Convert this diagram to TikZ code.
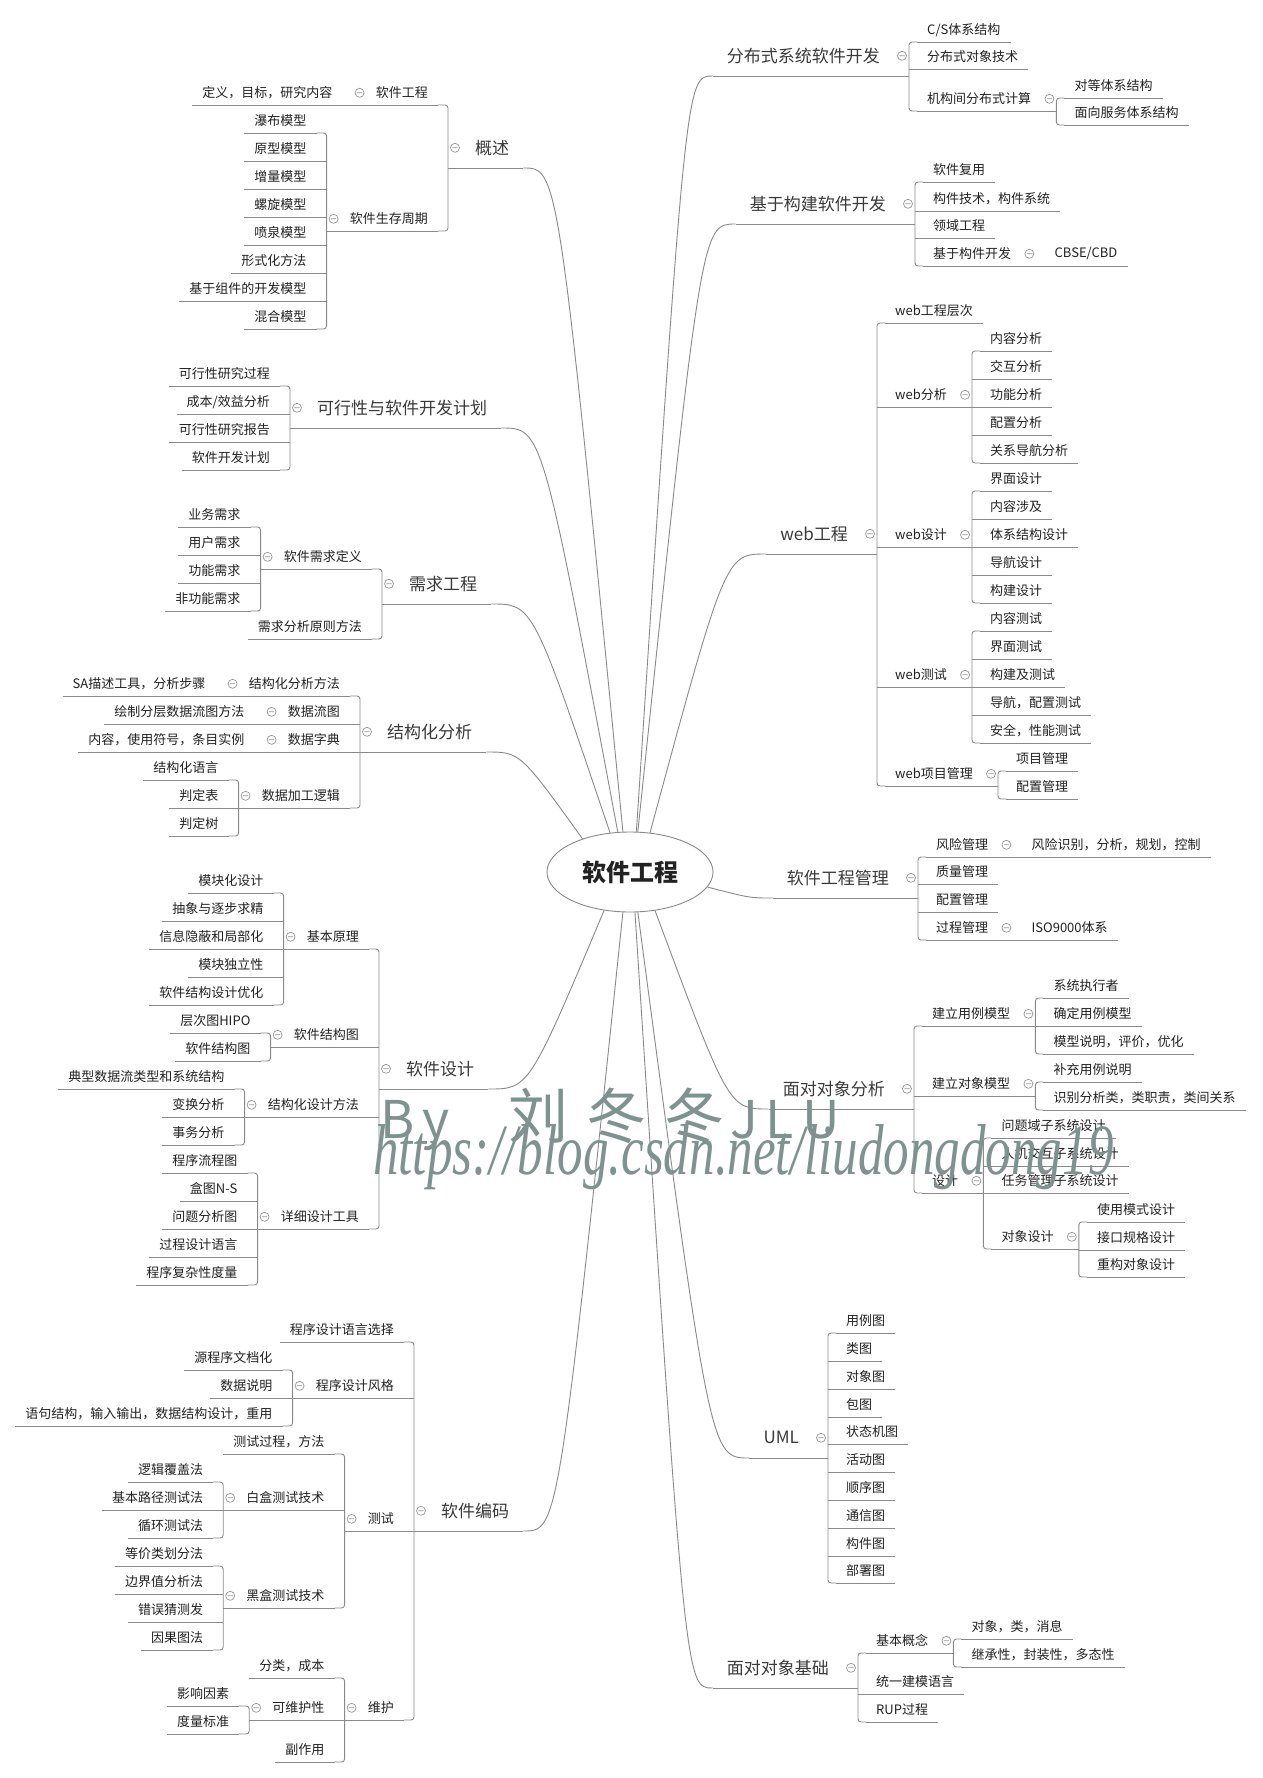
\documentclass[tikz,border=0pt]{standalone}
\usepackage{fontspec}
\setmainfont{Noto Sans CJK SC}
\newfontfamily\wmserif{Liberation Serif}
\usepackage{graphicx}
\usetikzlibrary{calc,positioning,shapes.geometric}

\definecolor{ink}{RGB}{34,34,34}
\definecolor{topicink}{RGB}{58,58,58}
\definecolor{linegray}{RGB}{138,138,138}
\definecolor{foldgray}{RGB}{150,150,150}
\definecolor{wmgreen}{RGB}{126,147,144}

\tikzset{
  link/.style={draw=linegray, line width=0.9pt},
  fold/.style={draw=foldgray, line width=0.7pt},
  leaf/.style={inner xsep=10pt, inner ysep=0pt, minimum height=24pt,
    text=ink, font=\fontsize{13}{14}\selectfont},
  topic/.style={inner xsep=14pt, inner ysep=0pt, minimum height=40pt,
    text=topicink, font=\fontsize{17}{18}\selectfont},
  hub/.style={ellipse, draw=linegray, line width=0.9pt, inner sep=0pt,
    minimum width=166pt, minimum height=80pt, text=ink,
    font=\fontsize{24}{26}\selectfont\bfseries},
  wmark/.style={text=wmgreen, inner sep=0pt},
}

% topics sit on a bracket x and an underline y
\newcommand\ltopic[4]{%
  \node[topic,anchor=south west] (#1) at (#2+13,-#3) {#4};
  \draw[link] (#1.south west) -- (#1.south east);}
\newcommand\rtopic[4]{%
  \node[topic,anchor=south east] (#1) at (#2-15,-#3) {#4};
  \draw[link] (#1.south west) -- (#1.south east);}
% children hang off the bracket of their parent
\newcommand\lkid[4]{%
  \path let \p1=(#2.south west) in
    node[leaf,anchor=south east] (#1) at (\x1-23pt,-#3pt) {#4};
  \draw[link] (#1.south west) -- (#1.south east);}
\newcommand\rkid[4]{%
  \path let \p1=(#2.south east) in
    node[leaf,anchor=south west] (#1) at (\x1+23pt,-#3pt) {#4};
  \draw[link] (#1.south west) -- (#1.south east);}
% fold marks
\newcommand\lmark[1]{\draw[fold] ([xshift=-6pt]#1.west) circle[radius=4.5pt] +(-2.6pt,0) -- +(2.6pt,0);}
\newcommand\rmark[1]{\draw[fold] ([xshift=8pt]#1.east) circle[radius=4.5pt] +(-2.6pt,0) -- +(2.6pt,0);}
% brackets: parent, first kid, last kid, kids in between
\newcommand\lfork[4]{%
  \coordinate (#1-b) at ([xshift=-13pt]#1.south west);
  \draw[link,rounded corners=3pt] (#2.south east) -| (#1-b) |- (#3.south east);
  \draw[link] (#1-b) -- (#1.south west);
  \if\relax\detokenize{#4}\relax\else
    \foreach \k in {#4} {\draw[link] (\k.south east) -- (\k.south east -| #1-b);}%
  \fi
  \lmark{#1}}
\newcommand\rfork[4]{%
  \coordinate (#1-b) at ([xshift=15pt]#1.south east);
  \draw[link,rounded corners=3pt] (#2.south west) -| (#1-b) |- (#3.south west);
  \draw[link] (#1.south east) -- (#1-b);
  \if\relax\detokenize{#4}\relax\else
    \foreach \k in {#4} {\draw[link] (\k.south west) -- (\k.south west -| #1-b);}%
  \fi
  \rmark{#1}}
% one child on the same line
\newcommand\lone[2]{\draw[link] (#2.south east) -- (#1.south west); \lmark{#1}}
\newcommand\rone[2]{\draw[link] (#1.south east) -- (#2.south west); \rmark{#1}}
% curve from the hub to a topic
\newcommand\branch[2]{%
  \draw[link] let \p1=(#1), \p2=(#2) in
    (\p1) .. controls ({0.65*\x2+0.35*\x1},\y2) .. (\p2);}

\begin{document}
\begin{tikzpicture}[x=1pt,y=1pt]
\fill[white] (0,0) rectangle (1263,-1778);
\useasboundingbox (0,0) rectangle (1263,-1778);

\node[hub] (hub) at (630,-872) {软件工程};

% ---------------- left half ----------------
\ltopic{overview}{448}{168}{概述}
\lkid{se}{overview}{105}{软件工程}
\lkid{se-1}{se}{105}{定义，目标，研究内容}
\lone{se}{se-1}
\lkid{lifecycle}{overview}{231}{软件生存周期}
\lkid{lc-1}{lifecycle}{133}{瀑布模型}
\lkid{lc-2}{lifecycle}{161}{原型模型}
\lkid{lc-3}{lifecycle}{189}{增量模型}
\lkid{lc-4}{lifecycle}{217}{螺旋模型}
\lkid{lc-5}{lifecycle}{245}{喷泉模型}
\lkid{lc-6}{lifecycle}{273}{形式化方法}
\lkid{lc-7}{lifecycle}{301}{基于组件的开发模型}
\lkid{lc-8}{lifecycle}{329}{混合模型}
\lfork{lifecycle}{lc-1}{lc-8}{lc-2,lc-3,lc-4,lc-5,lc-6,lc-7}
\lfork{overview}{se}{lifecycle}{}

\ltopic{feasibility}{290}{428}{可行性与软件开发计划}
\lkid{fe-1}{feasibility}{386}{可行性研究过程}
\lkid{fe-2}{feasibility}{414}{成本/效益分析}
\lkid{fe-3}{feasibility}{442}{可行性研究报告}
\lkid{fe-4}{feasibility}{470}{软件开发计划}
\lfork{feasibility}{fe-1}{fe-4}{fe-2,fe-3}

\ltopic{requirements}{382}{604}{需求工程}
\lkid{req-def}{requirements}{569}{软件需求定义}
\lkid{rd-1}{req-def}{527}{业务需求}
\lkid{rd-2}{req-def}{555}{用户需求}
\lkid{rd-3}{req-def}{583}{功能需求}
\lkid{rd-4}{req-def}{611}{非功能需求}
\lfork{req-def}{rd-1}{rd-4}{rd-2,rd-3}
\lkid{req-method}{requirements}{639}{需求分析原则方法}
\lfork{requirements}{req-def}{req-method}{}

\ltopic{sa}{360}{752}{结构化分析}
\lkid{sa-method}{sa}{696}{结构化分析方法}
\lkid{sa-method-1}{sa-method}{696}{SA描述工具，分析步骤}
\lone{sa-method}{sa-method-1}
\lkid{dfd}{sa}{724}{数据流图}
\lkid{dfd-1}{dfd}{724}{绘制分层数据流图方法}
\lone{dfd}{dfd-1}
\lkid{dd}{sa}{752}{数据字典}
\lkid{dd-1}{dd}{752}{内容，使用符号，条目实例}
\lone{dd}{dd-1}
\lkid{logic}{sa}{808}{数据加工逻辑}
\lkid{lg-1}{logic}{780}{结构化语言}
\lkid{lg-2}{logic}{808}{判定表}
\lkid{lg-3}{logic}{836}{判定树}
\lfork{logic}{lg-1}{lg-3}{lg-2}
\lfork{sa}{sa-method}{logic}{dfd,dd}

\ltopic{design}{379}{1089}{软件设计}
\lkid{principle}{design}{949}{基本原理}
\lkid{pr-1}{principle}{893}{模块化设计}
\lkid{pr-2}{principle}{921}{抽象与逐步求精}
\lkid{pr-3}{principle}{949}{信息隐蔽和局部化}
\lkid{pr-4}{principle}{977}{模块独立性}
\lkid{pr-5}{principle}{1005}{软件结构设计优化}
\lfork{principle}{pr-1}{pr-5}{pr-2,pr-3,pr-4}
\lkid{sc}{design}{1047}{软件结构图}
\lkid{sc-1}{sc}{1033}{层次图HIPO}
\lkid{sc-2}{sc}{1061}{软件结构图}
\lfork{sc}{sc-1}{sc-2}{}
\lkid{sd}{design}{1117}{结构化设计方法}
\lkid{sd-1}{sd}{1089}{典型数据流类型和系统结构}
\lkid{sd-2}{sd}{1117}{变换分析}
\lkid{sd-3}{sd}{1145}{事务分析}
\lfork{sd}{sd-1}{sd-3}{sd-2}
\lkid{tools}{design}{1229}{详细设计工具}
\lkid{tl-1}{tools}{1173}{程序流程图}
\lkid{tl-2}{tools}{1201}{盒图N-S}
\lkid{tl-3}{tools}{1229}{问题分析图}
\lkid{tl-4}{tools}{1257}{过程设计语言}
\lkid{tl-5}{tools}{1285}{程序复杂性度量}
\lfork{tools}{tl-1}{tl-5}{tl-2,tl-3,tl-4}
\lfork{design}{principle}{tools}{sc,sd}

\ltopic{coding}{414}{1531}{软件编码}
\lkid{lang}{coding}{1342}{程序设计语言选择}
\lkid{style}{coding}{1398}{程序设计风格}
\lkid{st-1}{style}{1370}{源程序文档化}
\lkid{st-2}{style}{1398}{数据说明}
\lkid{st-3}{style}{1426}{语句结构，输入输出，数据结构设计，重用}
\lfork{style}{st-1}{st-3}{st-2}
\lkid{testing}{coding}{1531}{测试}
\lkid{ts-1}{testing}{1454}{测试过程，方法}
\lkid{whitebox}{testing}{1510}{白盒测试技术}
\lkid{wbox-1}{whitebox}{1482}{逻辑覆盖法}
\lkid{wbox-2}{whitebox}{1510}{基本路径测试法}
\lkid{wbox-3}{whitebox}{1538}{循环测试法}
\lfork{whitebox}{wbox-1}{wbox-3}{wbox-2}
\lkid{blackbox}{testing}{1608}{黑盒测试技术}
\lkid{bbox-1}{blackbox}{1566}{等价类划分法}
\lkid{bbox-2}{blackbox}{1594}{边界值分析法}
\lkid{bbox-3}{blackbox}{1622}{错误猜测发}
\lkid{bbox-4}{blackbox}{1650}{因果图法}
\lfork{blackbox}{bbox-1}{bbox-4}{bbox-2,bbox-3}
\lfork{testing}{ts-1}{blackbox}{whitebox}
\lkid{maintain}{coding}{1720}{维护}
\lkid{mt-1}{maintain}{1678}{分类，成本}
\lkid{maintainability}{maintain}{1720}{可维护性}
\lkid{mb-1}{maintainability}{1706}{影响因素}
\lkid{mb-2}{maintainability}{1734}{度量标准}
\lfork{maintainability}{mb-1}{mb-2}{}
\lkid{mt-3}{maintain}{1762}{副作用}
\lfork{maintain}{mt-1}{mt-3}{maintainability}
\lfork{coding}{lang}{maintain}{style,testing}

% ---------------- right half ----------------
\rtopic{distributed}{909}{76}{分布式系统软件开发}
\rkid{ds-1}{distributed}{42}{C/S体系结构}
\rkid{ds-2}{distributed}{69}{分布式对象技术}
\rkid{inter-org}{distributed}{111}{机构间分布式计算}
\rkid{io-1}{inter-org}{98}{对等体系结构}
\rkid{io-2}{inter-org}{125}{面向服务体系结构}
\rfork{inter-org}{io-1}{io-2}{}
\rfork{distributed}{ds-1}{inter-org}{ds-2}

\rtopic{component}{915}{224}{基于构建软件开发}
\rkid{cp-1}{component}{182}{软件复用}
\rkid{cp-2}{component}{211}{构件技术，构件系统}
\rkid{cp-3}{component}{238}{领域工程}
\rkid{cbd}{component}{266}{基于构件开发}
\rkid{cbd-1}{cbd}{266}{CBSE/CBD}
\rone{cbd}{cbd-1}
\rfork{component}{cp-1}{cbd}{cp-2,cp-3}

\rtopic{web}{877}{554}{web工程}
\rkid{web-levels}{web}{323}{web工程层次}
\rkid{web-analysis}{web}{407}{web分析}
\rkid{wa-1}{web-analysis}{351}{内容分析}
\rkid{wa-2}{web-analysis}{379}{交互分析}
\rkid{wa-3}{web-analysis}{407}{功能分析}
\rkid{wa-4}{web-analysis}{435}{配置分析}
\rkid{wa-5}{web-analysis}{463}{关系导航分析}
\rfork{web-analysis}{wa-1}{wa-5}{wa-2,wa-3,wa-4}
\rkid{web-design}{web}{547}{web设计}
\rkid{wd-1}{web-design}{491}{界面设计}
\rkid{wd-2}{web-design}{519}{内容涉及}
\rkid{wd-3}{web-design}{547}{体系结构设计}
\rkid{wd-4}{web-design}{575}{导航设计}
\rkid{wd-5}{web-design}{603}{构建设计}
\rfork{web-design}{wd-1}{wd-5}{wd-2,wd-3,wd-4}
\rkid{web-test}{web}{687}{web测试}
\rkid{wt-1}{web-test}{631}{内容测试}
\rkid{wt-2}{web-test}{659}{界面测试}
\rkid{wt-3}{web-test}{687}{构建及测试}
\rkid{wt-4}{web-test}{715}{导航，配置测试}
\rkid{wt-5}{web-test}{743}{安全，性能测试}
\rfork{web-test}{wt-1}{wt-5}{wt-2,wt-3,wt-4}
\rkid{web-pm}{web}{786}{web项目管理}
\rkid{pm-1}{web-pm}{771}{项目管理}
\rkid{pm-2}{web-pm}{799}{配置管理}
\rfork{web-pm}{pm-1}{pm-2}{}
\rfork{web}{web-levels}{web-pm}{web-analysis,web-design,web-test}

\rtopic{management}{918}{898}{软件工程管理}
\rkid{risk}{management}{857}{风险管理}
\rkid{risk-1}{risk}{857}{风险识别，分析，规划，控制}
\rone{risk}{risk-1}
\rkid{quality}{management}{884}{质量管理}
\rkid{config}{management}{912}{配置管理}
\rkid{process}{management}{940}{过程管理}
\rkid{process-1}{process}{940}{ISO9000体系}
\rone{process}{process-1}
\rfork{management}{risk}{process}{quality,config}

\rtopic{ooa}{914}{1109}{面对对象分析}
\rkid{usecase}{ooa}{1026}{建立用例模型}
\rkid{uc-1}{usecase}{998}{系统执行者}
\rkid{uc-2}{usecase}{1026}{确定用例模型}
\rkid{uc-3}{usecase}{1054}{模型说明，评价，优化}
\rfork{usecase}{uc-1}{uc-3}{uc-2}
\rkid{objmodel}{ooa}{1096}{建立对象模型}
\rkid{om-1}{objmodel}{1082}{补充用例说明}
\rkid{om-2}{objmodel}{1110}{识别分析类，类职责，类间关系}
\rfork{objmodel}{om-1}{om-2}{}
\rkid{ood}{ooa}{1193}{设计}
\rkid{od-1}{ood}{1138}{问题域子系统设计}
\rkid{od-2}{ood}{1166}{人机交互子系统设计}
\rkid{od-3}{ood}{1193}{任务管理子系统设计}
\rkid{objdesign}{ood}{1249}{对象设计}
\rkid{odd-1}{objdesign}{1222}{使用模式设计}
\rkid{odd-2}{objdesign}{1250}{接口规格设计}
\rkid{odd-3}{objdesign}{1277}{重构对象设计}
\rfork{objdesign}{odd-1}{odd-3}{odd-2}
\rfork{ood}{od-1}{objdesign}{od-2,od-3}
\rfork{ooa}{usecase}{ood}{objmodel}

\rtopic{uml}{828}{1458}{UML}
\rkid{um-1}{uml}{1333}{用例图}
\rkid{um-2}{uml}{1361}{类图}
\rkid{um-3}{uml}{1389}{对象图}
\rkid{um-4}{uml}{1417}{包图}
\rkid{um-5}{uml}{1444}{状态机图}
\rkid{um-6}{uml}{1472}{活动图}
\rkid{um-7}{uml}{1500}{顺序图}
\rkid{um-8}{uml}{1528}{通信图}
\rkid{um-9}{uml}{1556}{构件图}
\rkid{um-10}{uml}{1583}{部署图}
\rfork{uml}{um-1}{um-10}{um-2,um-3,um-4,um-5,um-6,um-7,um-8,um-9}

\rtopic{oo-basics}{858}{1688}{面对对象基础}
\rkid{concepts}{oo-basics}{1653}{基本概念}
\rkid{cc-1}{concepts}{1639}{对象，类，消息}
\rkid{cc-2}{concepts}{1667}{继承性，封装性，多态性}
\rfork{concepts}{cc-1}{cc-2}{}
\rkid{ob-2}{oo-basics}{1694}{统一建模语言}
\rkid{ob-3}{oo-basics}{1722}{RUP过程}
\rfork{oo-basics}{concepts}{ob-3}{ob-2}

% ---------------- curves from the hub ----------------
\branch{hub.100}{overview.south east}
\branch{hub.107}{feasibility.south east}
\branch{hub.117}{requirements.south east}
\branch{hub.145}{sa.south east}
\branch{hub.236}{design.south east}
\branch{hub.260}{coding.south east}
\branch{hub.81}{distributed.south west}
\branch{hub.79}{component.south west}
\branch{hub.63}{web.south west}
\branch{hub.349}{management.south west}
\branch{hub.303}{ooa.south west}
\branch{hub.281}{uml.south west}
\branch{hub.277}{oo-basics.south west}

% watermark
\node[wmark,anchor=base west] (wm-by) at (380,-1138)
  {\fontsize{52}{52}\selectfont B\,y\hspace{58pt}{\fontsize{60}{60}\selectfont 刘\hspace{18pt}冬\hspace{18pt}冬}\hspace{6pt}J\hspace{8pt}L\hspace{8pt}U};
\node[wmark,anchor=base west] (wm-url) at (373,-1174)
  {\resizebox{740pt}{50pt}{\wmserif\itshape https://blog.csdn.net/liudongdong19}};
\end{tikzpicture}
\end{document}
